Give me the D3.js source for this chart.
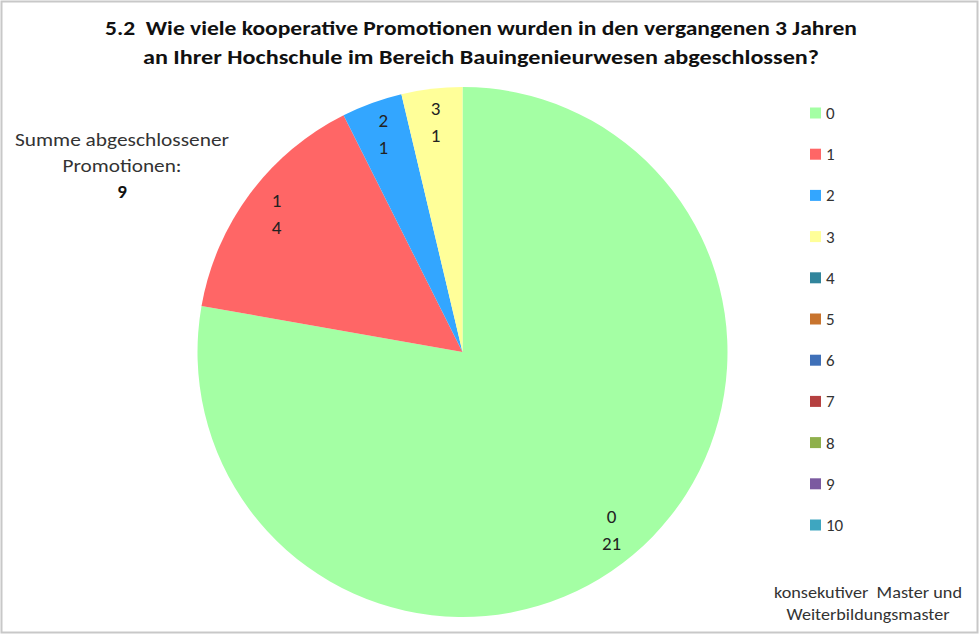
<!DOCTYPE html>
<html>
<head>
<meta charset="utf-8">
<script src="https://cdn.jsdelivr.net/npm/d3@7"></script>
<style>
  body { margin: 0; background: #fff; }
  svg { display: block; font-family: Carlito, Lato, "Open Sans", sans-serif; }
  text { white-space: pre; }
</style>
</head>
<body>
<svg id="chart" width="980" height="636"></svg>
<script>
// data
const categories = ["0", "1", "2", "3", "4", "5", "6", "7", "8", "9", "10"];
const counts = [21, 4, 1, 1, 0, 0, 0, 0, 0, 0, 0];
const colors = ["#a4ffa4", "#ff6666", "#33a6ff", "#ffff99", "#31859c", "#c8742e",
                "#3f70b8", "#b54040", "#8fb04c", "#7b5aa0", "#3ea6c0"];
const titleLines = [
    "5.2  Wie viele kooperative Promotionen wurden in den vergangenen 3 Jahren",
    "an Ihrer Hochschule im Bereich Bauingenieurwesen abgeschlossen?"
];
const sumLines = ["Summe abgeschlossener", "Promotionen:"];
const sumValue = 9;
const footLines = ["konsekutiver  Master und", "Weiterbildungsmaster"];

const width = 980, height = 636;
const cx = 462.5, cy = 352, radius = 265;

const svg = d3.select("#chart");

// frame
svg.append("rect")
    .attr("x", 1.5).attr("y", 1.5)
    .attr("width", width - 4).attr("height", height - 5)
    .attr("fill", "#fff")
    .attr("stroke", "#c8c8c8")
    .attr("stroke-width", 2);

// title
svg.append("g").selectAll("text")
    .data(titleLines)
    .enter().append("text")
    .attr("x", 481)
    .attr("y", (d, i) => 35 + i * 29)
    .attr("text-anchor", "middle")
    .attr("font-size", 20)
    .attr("font-weight", "bold")
    .attr("fill", "#111")
    .attr("textLength", (d, i) => i == 0 ? 752 : 676)
    .attr("lengthAdjust", "spacingAndGlyphs")
    .text(d => d);

// pie
const color = d3.scaleOrdinal().domain(categories).range(colors);
const data = categories.map((c, i) => ({ cat: c, value: counts[i] }));

const pie = d3.pie()
    .sort(null)
    .value(d => d.value);

const arc = d3.arc().innerRadius(0).outerRadius(radius);
const labelArc = d3.arc().innerRadius(radius * 0.875).outerRadius(radius * 0.875);

const g = svg.append("g")
    .attr("transform", "translate(" + cx + "," + cy + ")");

const arcs = pie(data).filter(d => d.data.value > 0);

g.selectAll("path")
    .data(arcs)
    .enter().append("path")
    .attr("d", arc)
    .attr("fill", d => color(d.data.cat));

const labels = g.selectAll("text.slice")
    .data(arcs)
    .enter().append("text")
    .attr("class", "slice")
    .attr("text-anchor", "middle")
    .attr("font-size", 19)
    .attr("fill", "#222")
    .attr("transform", d => "translate(" + labelArc.centroid(d) + ")");
labels.append("tspan").attr("x", 0).attr("y", -7).text(d => d.data.cat);
labels.append("tspan").attr("x", 0).attr("y", 20).text(d => d.data.value);

// sum annotation
const sum = svg.append("text")
    .attr("text-anchor", "middle")
    .attr("font-size", 19)
    .attr("fill", "#333");
sumLines.forEach((t, i) => {
    sum.append("tspan").attr("x", 122).attr("y", 146 + i * 26)
        .attr("textLength", i == 0 ? 214 : 119)
        .attr("lengthAdjust", "spacingAndGlyphs")
        .text(t);
});
sum.append("tspan").attr("x", 122).attr("y", 198)
    .attr("font-weight", "bold").attr("fill", "#111").text(sumValue);

// legend
const legendY = d3.scalePoint().domain(categories).range([113, 525]);
const legend = svg.append("g").selectAll("g")
    .data(categories)
    .enter().append("g")
    .attr("transform", d => "translate(810," + legendY(d) + ")");
legend.append("rect")
    .attr("x", 0).attr("y", -5.5)
    .attr("width", 11).attr("height", 11)
    .attr("fill", d => color(d));
legend.append("text")
    .attr("x", 16).attr("y", 6)
    .attr("font-size", 17)
    .attr("fill", "#333")
    .text(d => d);

// footnote
svg.append("g").selectAll("text")
    .data(footLines)
    .enter().append("text")
    .attr("x", 868)
    .attr("y", (d, i) => 598 + i * 22)
    .attr("text-anchor", "middle")
    .attr("font-size", 17)
    .attr("fill", "#333")
    .attr("textLength", (d, i) => i == 0 ? 188 : 163)
    .attr("lengthAdjust", "spacingAndGlyphs")
    .text(d => d);
</script>
</body>
</html>
